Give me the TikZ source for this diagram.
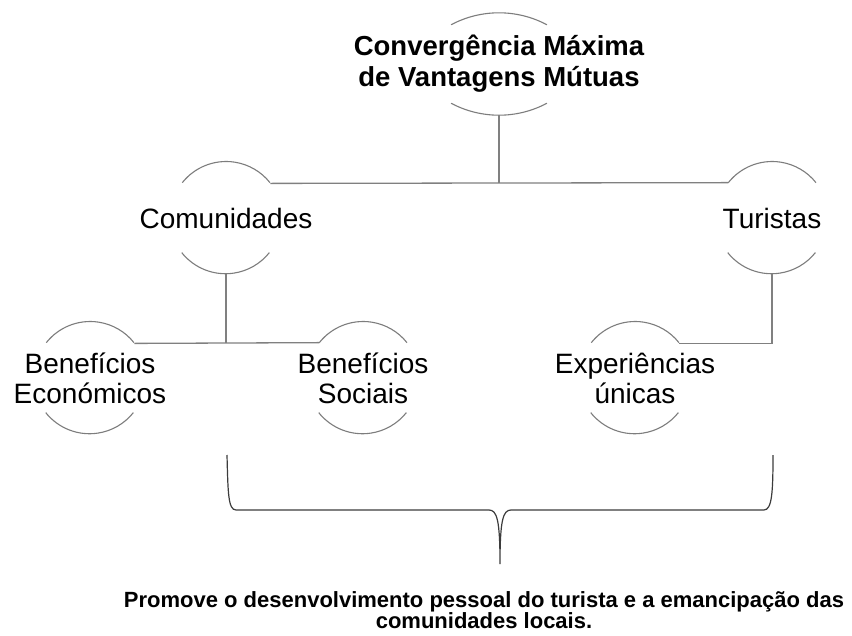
\documentclass[tikz,border=0pt]{standalone}
\usepackage{fontspec}
\setmainfont{Liberation Sans}
\usetikzlibrary{shapes.geometric}
\definecolor{linegray}{RGB}{128,128,128}
\definecolor{arcgray}{RGB}{125,125,125}
\definecolor{bracegray}{RGB}{60,60,60}
\begin{document}
\begin{tikzpicture}[x=1pt,y=1pt,
  ring/.style={circle,minimum size=112pt,inner sep=0pt,draw=none},
  txt/.style={align=center,inner sep=0pt,font=\fontsize{28}{30}\selectfont},
  bigtxt/.style={align=center,inner sep=0pt,font=\fontsize{27.5}{31}\selectfont\bfseries},
  arcline/.style={draw=arcgray,line width=1.1pt},
  conn/.style={draw=linegray,line width=1.3pt}]
\useasboundingbox (0,0) rectangle (852,-635);
\fill[white] (0,0) rectangle (852,-635);

% nodes
\node[ellipse,minimum width=96pt,minimum height=102pt,inner sep=0pt,
      label={[bigtxt]center:Convergência Máxima\\de Vantagens Mútuas}] (top) at (499,-64) {};
\node[ring,label={[txt]center:Comunidades}] (com) at (226,-218) {};
\node[ring,label={[txt]center:Turistas}] (tur) at (772,-218) {};
\node[ring,label={[txt]center:Benefícios\\Económicos}] (eco) at (90,-378) {};
\node[ring,label={[txt]center:Benefícios\\Sociais}] (soc) at (363,-378) {};
\node[ring,label={[txt]center:Experiências\\únicas}] (exp) at (635,-378) {};

% flat arcs of the top node
\draw[arcline] (top.north) ++(0,-102pt) ++(118:102pt) arc[start angle=118,end angle=62,radius=102pt];
\draw[arcline] (top.south) ++(0,102pt) ++(242:102pt) arc[start angle=242,end angle=298,radius=102pt];

% arcs of the circles
\foreach \n in {com,tur,eco,soc,exp}{
  \draw[arcline] (\n.141.5) arc[start angle=141.5,end angle=38.5,radius=56pt];
  \draw[arcline] (\n.218.5) arc[start angle=218.5,end angle=321.5,radius=56pt];
}

% connectors
\draw[conn] (top.south) -- (top.south |- com.38.5);
\draw[conn] (com.38.5) -- (tur.141.5);
\draw[conn] (com.south) -- (com.south |- eco.38.5);
\draw[conn] (eco.38.5) -- (soc.141.5);
\draw[conn] (tur.south) -- (tur.south |- exp.38.5) -- (exp.38.5);

% brace
\coordinate (tip) at (500,-564);
\draw[draw=bracegray,line width=1.2pt]
  (227,-455) .. controls (228,-492) and (228,-510) .. (236,-510) -- (489,-510)
  .. controls (497,-510) and (500,-520) .. (tip)
  .. controls (500,-520) and (503,-510) .. (511,-510) -- (764,-510)
  .. controls (772,-510) and (773,-492) .. (773,-455);

% result text
\node[align=center,inner sep=0pt,font=\fontsize{22}{21.5}\selectfont\bfseries] (res) at (484,-610)
  {Promove o desenvolvimento pessoal do turista e a emancipação das\\comunidades locais.};
\end{tikzpicture}
\end{document}
